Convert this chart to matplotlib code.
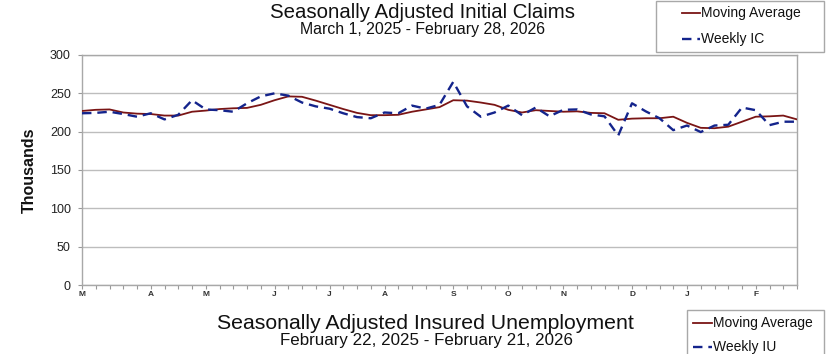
import matplotlib
matplotlib.use('Agg')
import matplotlib.pyplot as plt
from matplotlib.lines import Line2D
from matplotlib.patches import Rectangle

plt.rcParams['font.family'] = ['Liberation Sans', 'DejaVu Sans']

W, H = 834, 354

# weekly values in thousands, weeks ending Mar 1 2025 .. Feb 28 2026 (53 weeks)
moving_avg = [227, 228.5, 229, 225, 223.5, 223, 221, 221, 226, 227.5, 229.5, 230.5, 231,
              235, 241, 246, 245.5, 240.5, 235, 229.5, 224.5, 221.5, 221.5, 222, 226, 229, 232,
              241, 240.5, 238, 235, 228.5, 225, 228, 227, 226, 226.5, 224.5, 224, 215.5,
              217, 217.5, 217.5, 219.5, 211.5, 205, 204.5, 206.5, 213, 219.5, 220, 221, 216]
weekly_ic = [224, 224.5, 226, 223, 219.5, 224, 216, 222, 241, 229, 228, 226, 237,
             246, 250, 247, 238, 233, 230, 224, 219, 217.5, 225, 224, 234, 230, 235,
             265, 233, 219.5, 225, 234, 221.5, 231.5, 220, 228.5, 229, 222.5, 220, 195,
             237, 226.5, 217.5, 202, 208, 199.5, 208, 209, 231.5, 228, 208.5, 213, 213]

month_labels = ['M', 'A', 'M', 'J', 'J', 'A', 'S', 'O', 'N', 'D', 'J', 'F']
month_weeks = [0, 5, 9, 14, 18, 22, 27, 31, 35, 40, 44, 49]
y_ticks = [0, 50, 100, 150, 200, 250, 300]

title_ic = 'Seasonally Adjusted Initial Claims'
range_ic = 'March 1, 2025 - February 28, 2026'
title_iu = 'Seasonally Adjusted Insured Unemployment'
range_iu = 'February 22, 2025 - February 21, 2026'

MA_COLOR = '#7a1515'
WK_COLOR = '#14248c'
GRID = '#bdbdbd'
DASH = (0, (4, 2.5))


def fx(px):
    return px / W


def fy(py):
    return 1 - py / H


def draw_legend(fig, box, entries):
    # box = (left, top, right, bottom) in pixels
    l, t, r, b = box
    fig.add_artist(Rectangle((fx(l), fy(b)), fx(r - l), (b - t) / H,
                             transform=fig.transFigure, fill=False,
                             edgecolor='#a8a8a8', lw=1.0, clip_on=False))
    for label, y, x0, x1, color, ls, lw in entries:
        fig.add_artist(Line2D([fx(x0), fx(x1)], [fy(y), fy(y)], transform=fig.transFigure,
                              color=color, ls=ls, lw=lw))
        fig.text(fx(x1 + 1), fy(y), label, fontsize=10, va='center', ha='left',
                 color='#111111')


fig = plt.figure(figsize=(W / 100, H / 100), dpi=100)
ax = fig.add_axes([fx(82), fy(285), fx(797 - 82), (285 - 55) / H])

weeks = list(range(len(moving_avg)))
ax.plot(weeks, moving_avg, color=MA_COLOR, lw=1.3, zorder=3)
ax.plot(weeks, weekly_ic, color=WK_COLOR, lw=1.7, ls=DASH, zorder=3)

ax.set_xlim(0, len(weeks) - 1)
ax.set_ylim(0, 300)
ax.set_yticks(y_ticks)
ax.set_yticklabels([str(v) for v in y_ticks])
ax.yaxis.grid(True, color=GRID, lw=1.0)
ax.set_axisbelow(True)

xlabels = [''] * len(weeks)
for w, m in zip(month_weeks, month_labels):
    xlabels[w] = m
ax.set_xticks(weeks)
ax.set_xticklabels(xlabels)

ax.tick_params(axis='y', length=3, color='#999999', labelsize=9, pad=5, labelcolor='#222222')
ax.tick_params(axis='x', length=3, color='#999999', labelsize=6, pad=1, labelcolor='#333333')
for t in ax.get_xticklabels():
    t.set_fontweight('bold')
for s in ax.spines.values():
    s.set_color('#a8a8a8')
    s.set_linewidth(1.0)

ax.set_ylabel('Thousands', fontsize=11.5, fontweight='bold', color='#111111')
ax.yaxis.set_label_coords(-0.063, 0.5)

fig.text(fx(423), fy(18.5), title_ic, fontsize=14.7, ha='center', va='baseline', color='#111111')
fig.text(fx(423), fy(34), range_ic, fontsize=11.4, ha='center', va='baseline', color='#111111')
fig.text(fx(425), fy(329), title_iu, fontsize=15.3, ha='center', va='baseline', color='#111111')
fig.text(fx(426), fy(345), range_iu, fontsize=12.2, ha='center', va='baseline', color='#111111')

draw_legend(fig, (656, 1, 824, 52), [
    ('Moving Average', 13, 682, 700, MA_COLOR, '-', 1.3),
    ('Weekly IC', 39, 682, 700, WK_COLOR, DASH, 1.7),
])
draw_legend(fig, (687, 310, 824, 365), [
    ('Moving Average', 323, 693, 712, MA_COLOR, '-', 1.3),
    ('Weekly IU', 347, 693, 712, WK_COLOR, DASH, 1.7),
])

fig.savefig('out.png', dpi=100)
